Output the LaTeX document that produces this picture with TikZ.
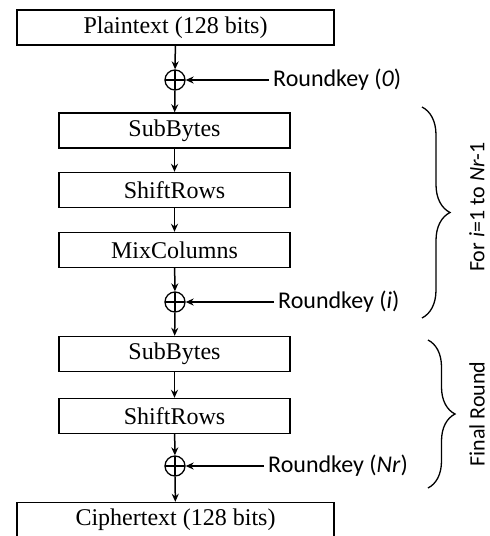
\documentclass[tikz,border=0pt]{standalone}
\usepackage{fontspec}
\setmainfont{Liberation Serif}
\newfontfamily\keyfont{Carlito}
\usetikzlibrary{positioning,decorations.pathreplacing,arrows.meta}

\tikzset{
	stage/.style={draw,line width=1.4pt,minimum height=35pt,font=\fontsize{24}{26}\selectfont,inner sep=0pt},
	xorop/.style={circle,draw,line width=1.3pt,minimum size=20pt,inner sep=0pt,
		path picture={\draw[line width=1.3pt] (path picture bounding box.north) -- (path picture bounding box.south)
			(path picture bounding box.west) -- (path picture bounding box.east);}},
	keylbl/.style={anchor=west,inner sep=4pt,font=\keyfont\fontsize{24}{26}\selectfont},
	flow/.style={-{Stealth[length=8pt,width=7pt]},line width=1.5pt},
	roundbrace/.style={decorate,decoration={brace,amplitude=28pt},line width=1.3pt},
	sidelbl/.style={rotate=90,inner sep=0pt,font=\keyfont\fontsize{22}{24}\selectfont}
}

\begin{document}
\begin{tikzpicture}[x=1pt,y=-1pt]
		\useasboundingbox (0,0) rectangle (490,536);
		
		\node[stage,minimum width=317pt] (plain) at (175.5,27.5) {Plaintext (128 bits)};
		\node[xorop] (xor0) at (175,80) {};
		\node[stage,minimum width=231pt] (sub1) at (174.5,130.5) {SubBytes};
		\node[stage,minimum width=231pt] (shift1) at (174.5,190) {ShiftRows};
		\node[stage,minimum width=231pt] (mix) at (174.5,250) {MixColumns};
		\node[xorop] (xor1) at (175,302) {};
		\node[stage,minimum width=231pt] (sub2) at (174.5,354) {SubBytes};
		\node[stage,minimum width=231pt] (shift2) at (174.5,416) {ShiftRows};
		\node[xorop] (xor2) at (175,466) {};
		\node[stage,minimum width=317pt] (cipher) at (175.5,520) {Ciphertext (128 bits)};
		
		\node[keylbl] (key0) at (269,80) {Roundkey (\textit{0})};
		\node[keylbl] (keyi) at (274,302) {Roundkey (\textit{i})};
		\node[keylbl] (keynr) at (264,466) {Roundkey (\textit{Nr})};
		
		\draw[flow] (plain) -- (xor0);
		\draw[flow] (xor0) -- (sub1);
		\draw[flow] (sub1) -- (shift1);
		\draw[flow] (shift1) -- (mix);
		\draw[flow] (mix) -- (xor1);
		\draw[flow] (xor1) -- (sub2);
		\draw[flow] (sub2) -- (shift2);
		\draw[flow] (shift2) -- (xor2);
		\draw[flow] (xor2) -- (cipher);
		
		\draw[flow] (key0) -- (xor0);
		\draw[flow] (keyi) -- (xor1);
		\draw[flow] (keynr) -- (xor2);
		
		% round braces
		\coordinate (loopTop) at (422,107);
		\coordinate (loopBot) at (422,318);
		\coordinate (lastTop) at (428,340);
		\coordinate (lastBot) at (428,488);
		\draw[roundbrace] (loopTop) -- (loopBot);
		\draw[roundbrace,decoration={amplitude=27pt}] (lastTop) -- (lastBot);
		
		\node[sidelbl] (loopLbl) at (477,207) {For \textit{i}=1 to \textit{Nr}-1};
		\node[sidelbl] (lastLbl) at (477,414) {Final Round};
\end{tikzpicture}
\end{document}
